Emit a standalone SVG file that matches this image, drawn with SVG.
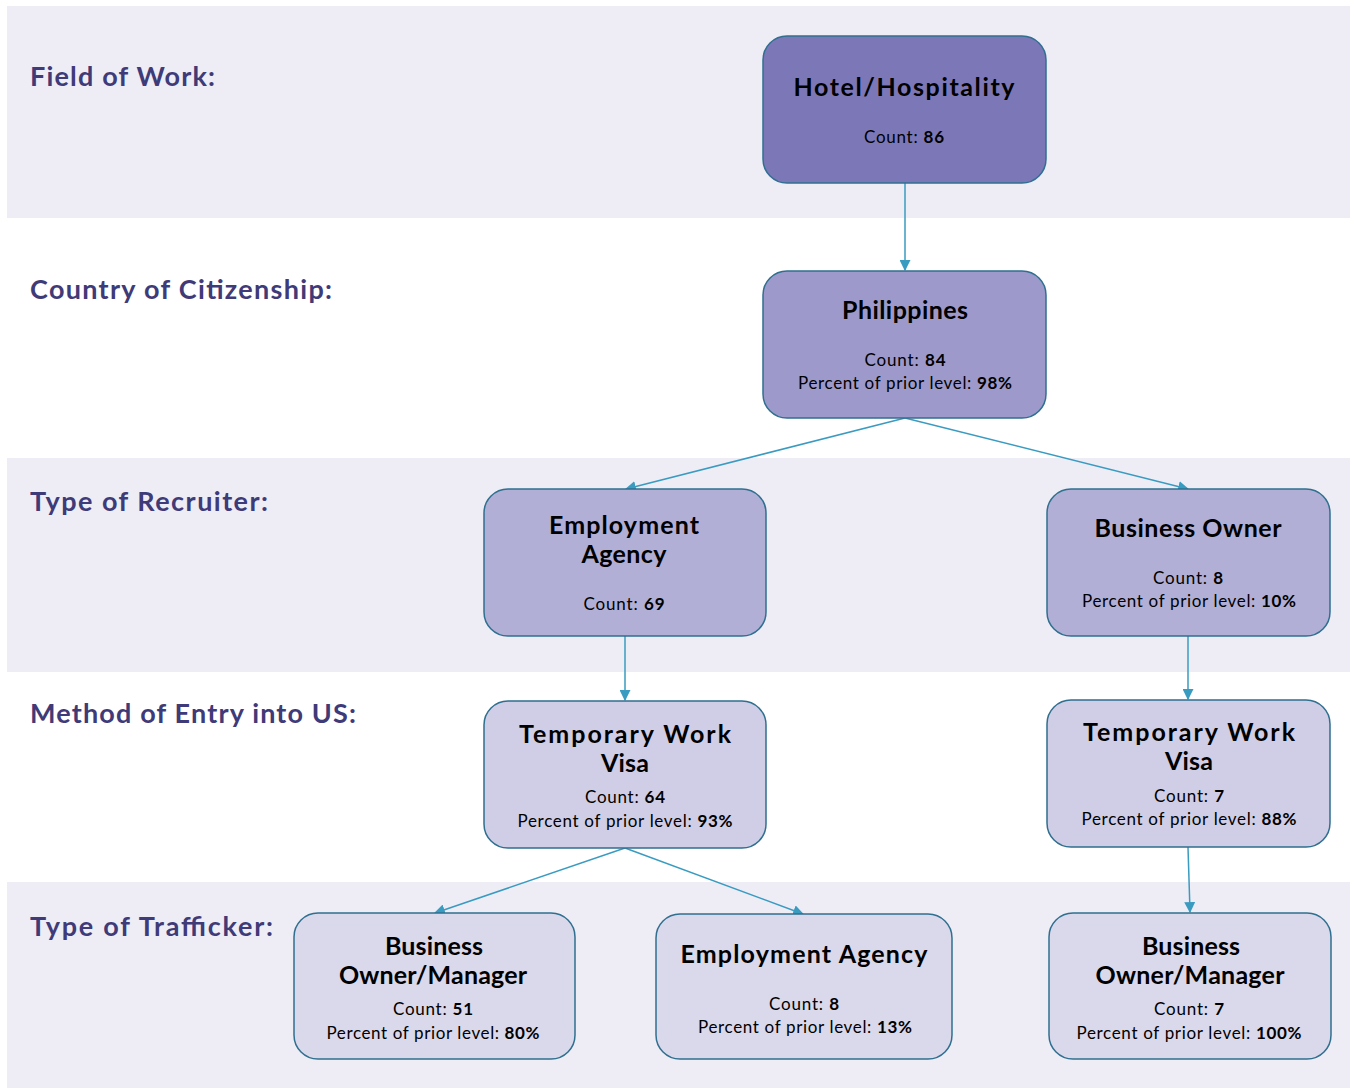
<svg xmlns="http://www.w3.org/2000/svg" width="1351" height="1089" viewBox="0 0 1351 1089">
<style>
.band{fill:#EEEDF6}
.sec{font-family:Lato,"Open Sans",sans-serif;font-weight:bold;font-size:27px;fill:#3F3A78}
.node{stroke:#2F6F8F;stroke-width:1.5}
.t{font-family:Lato,"Open Sans",sans-serif;font-weight:bold;font-size:25px;fill:#000;text-anchor:middle}
.c{font-family:Lato,"Open Sans",sans-serif;font-size:17px;fill:#000;text-anchor:middle}
.c tspan.b{font-weight:bold}
.edge{stroke:#3A9BC1;stroke-width:1.5;fill:none;marker-end:url(#ah)}
</style>
<defs>
<marker id="ah" viewBox="0 0 10 10" refX="9" refY="5" markerWidth="11" markerHeight="11" markerUnits="userSpaceOnUse" orient="auto">
<path d="M0,0 L10,5 L0,10 z" fill="#3A9BC1"/>
</marker>
</defs>
<rect width="1351" height="1089" fill="#fff"/>
<rect class="band" x="7" y="6" width="1343" height="212"/>
<rect class="band" x="7" y="458" width="1343" height="214"/>
<rect class="band" x="7" y="882" width="1343" height="206"/>
<text class="sec" x="30" y="86" textLength="185" lengthAdjust="spacing">Field of Work:</text>
<text class="sec" x="30" y="299" textLength="302" lengthAdjust="spacing">Country of Citizenship:</text>
<text class="sec" x="30" y="511" textLength="238" lengthAdjust="spacing">Type of Recruiter:</text>
<text class="sec" x="30" y="723" textLength="326" lengthAdjust="spacing">Method of Entry into US:</text>
<text class="sec" x="30" y="936" textLength="243" lengthAdjust="spacing">Type of Trafficker:</text>
<g id="connectors">
<line class="edge" x1="905" y1="183" x2="905" y2="270"/>
<line class="edge" x1="905" y1="418" x2="626" y2="489"/>
<line class="edge" x1="905" y1="418" x2="1188" y2="489"/>
<line class="edge" x1="625" y1="636" x2="625" y2="700"/>
<line class="edge" x1="1188" y1="636" x2="1188" y2="699"/>
<line class="edge" x1="625" y1="848" x2="435" y2="913"/>
<line class="edge" x1="625" y1="848" x2="803" y2="914"/>
<line class="edge" x1="1188" y1="847" x2="1190" y2="912"/>
</g>
<g id="n-hotel">
<rect class="node" x="763" y="36" width="283" height="147" rx="24" fill="#7C78B8"/>
<text class="t" x="904" y="96" textLength="221" lengthAdjust="spacing">Hotel/Hospitality</text>
<text class="c" x="904" y="143" textLength="80" lengthAdjust="spacing">Count: <tspan class="b">86</tspan></text>
</g>
<g id="n-philippines">
<rect class="node" x="763" y="271" width="283" height="147" rx="24" fill="#9D9ACB"/>
<text class="t" x="905" y="319" textLength="126" lengthAdjust="spacing">Philippines</text>
<text class="c" x="905" y="366" textLength="81" lengthAdjust="spacing">Count: <tspan class="b">84</tspan></text>
<text class="c" x="905" y="389" textLength="214" lengthAdjust="spacing">Percent of prior level: <tspan class="b">98%</tspan></text>
</g>
<g id="n-employment-agency">
<rect class="node" x="484" y="489" width="282" height="147" rx="24" fill="#B2AFD6"/>
<text class="t" x="624" y="534" textLength="150" lengthAdjust="spacing">Employment</text>
<text class="t" x="624" y="563" textLength="85" lengthAdjust="spacing">Agency</text>
<text class="c" x="624" y="610" textLength="81" lengthAdjust="spacing">Count: <tspan class="b">69</tspan></text>
</g>
<g id="n-business-owner">
<rect class="node" x="1047" y="489" width="283" height="147" rx="24" fill="#B2AFD6"/>
<text class="t" x="1188" y="537" textLength="187" lengthAdjust="spacing">Business Owner</text>
<text class="c" x="1188" y="584" textLength="70" lengthAdjust="spacing">Count: <tspan class="b">8</tspan></text>
<text class="c" x="1189" y="607" textLength="214" lengthAdjust="spacing">Percent of prior level: <tspan class="b">10%</tspan></text>
</g>
<g id="n-visa-left">
<rect class="node" x="484" y="701" width="282" height="147" rx="24" fill="#D0CEE6"/>
<text class="t" x="625" y="743" textLength="212" lengthAdjust="spacing">Temporary Work</text>
<text class="t" x="625" y="772" textLength="48" lengthAdjust="spacing">Visa</text>
<text class="c" x="625" y="803" textLength="80" lengthAdjust="spacing">Count: <tspan class="b">64</tspan></text>
<text class="c" x="625" y="827" textLength="215" lengthAdjust="spacing">Percent of prior level: <tspan class="b">93%</tspan></text>
</g>
<g id="n-visa-right">
<rect class="node" x="1047" y="700" width="283" height="147" rx="24" fill="#D0CEE6"/>
<text class="t" x="1189" y="741" textLength="212" lengthAdjust="spacing">Temporary Work</text>
<text class="t" x="1189" y="770" textLength="48" lengthAdjust="spacing">Visa</text>
<text class="c" x="1189" y="802" textLength="70" lengthAdjust="spacing">Count: <tspan class="b">7</tspan></text>
<text class="c" x="1189" y="825" textLength="215" lengthAdjust="spacing">Percent of prior level: <tspan class="b">88%</tspan></text>
</g>
<g id="n-bo-manager-left">
<rect class="node" x="294" y="913" width="281" height="146" rx="24" fill="#DAD8EB"/>
<text class="t" x="434" y="955" textLength="98" lengthAdjust="spacing">Business</text>
<text class="t" x="433" y="984" textLength="188" lengthAdjust="spacing">Owner/Manager</text>
<text class="c" x="433" y="1015" textLength="80" lengthAdjust="spacing">Count: <tspan class="b">51</tspan></text>
<text class="c" x="433" y="1039" textLength="213" lengthAdjust="spacing">Percent of prior level: <tspan class="b">80%</tspan></text>
</g>
<g id="n-employment-agency-2">
<rect class="node" x="656" y="914" width="296" height="145" rx="24" fill="#DAD8EB"/>
<text class="t" x="804" y="963" textLength="247" lengthAdjust="spacing">Employment Agency</text>
<text class="c" x="804" y="1010" textLength="70" lengthAdjust="spacing">Count: <tspan class="b">8</tspan></text>
<text class="c" x="805" y="1033" textLength="214" lengthAdjust="spacing">Percent of prior level: <tspan class="b">13%</tspan></text>
</g>
<g id="n-bo-manager-right">
<rect class="node" x="1049" y="913" width="282" height="146" rx="24" fill="#DAD8EB"/>
<text class="t" x="1191" y="955" textLength="98" lengthAdjust="spacing">Business</text>
<text class="t" x="1190" y="984" textLength="189" lengthAdjust="spacing">Owner/Manager</text>
<text class="c" x="1189" y="1015" textLength="70" lengthAdjust="spacing">Count: <tspan class="b">7</tspan></text>
<text class="c" x="1189" y="1039" textLength="225" lengthAdjust="spacing">Percent of prior level: <tspan class="b">100%</tspan></text>
</g>
</svg>
